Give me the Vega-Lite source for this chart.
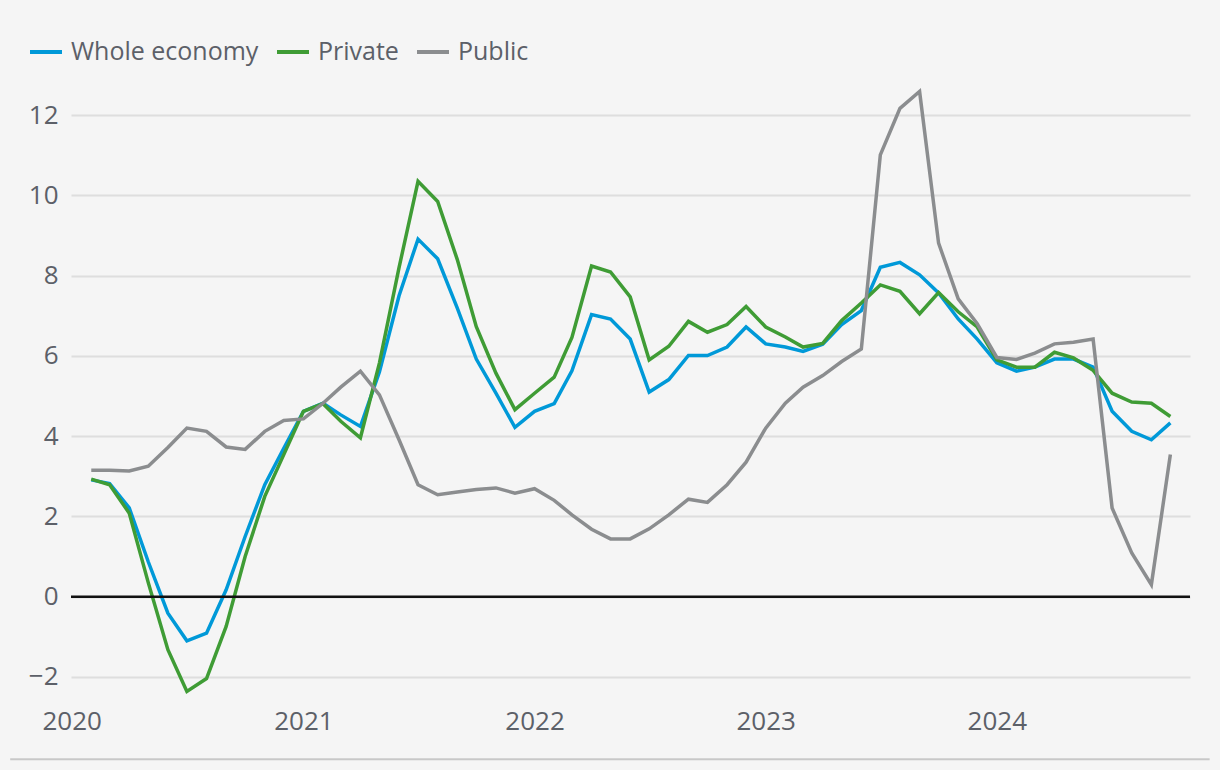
{
  "$schema": "https://vega.github.io/schema/vega-lite/v6.json",
  "width": 1119,
  "height": 626,
  "autosize": {"type": "none"},
  "padding": {"left": 71, "top": 75, "right": 30, "bottom": 69},
  "background": "#f5f5f5",
  "config": {
    "view": {"stroke": null},
    "font": "Open Sans",
    "axis": {"labelFont": "Open Sans", "labelFontSize": 26, "labelColor": "#5c6068", "title": null, "ticks": false, "domain": false},
    "legend": {"labelFont": "Open Sans", "labelFontSize": 25, "labelColor": "#5c6068", "labelLimit": 0}
  },
  "layer": [
    {
      "data": {"values": [{}]},
      "mark": {"type": "rule", "color": "#c8c8c8", "strokeWidth": 2, "clip": false},
      "encoding": {
        "y": {"datum": -4.05, "type": "quantitative"},
        "x": {"datum": {"year": 2019, "month": 9, "date": 26, "utc": true}, "type": "temporal"},
        "x2": {"datum": {"year": 2024, "month": 12, "date": 2, "utc": true}}
      }
    },
    {
      "data": {
        "values": [
          {"date": "2020-02-01", "Whole economy": 2.91, "Private": 2.93, "Public": 3.15},
          {"date": "2020-03-01", "Whole economy": 2.82, "Private": 2.79, "Public": 3.15},
          {"date": "2020-04-01", "Whole economy": 2.21, "Private": 2.08, "Public": 3.13},
          {"date": "2020-05-01", "Whole economy": 0.87, "Private": 0.35, "Public": 3.25},
          {"date": "2020-06-01", "Whole economy": -0.41, "Private": -1.32, "Public": 3.72},
          {"date": "2020-07-01", "Whole economy": -1.10, "Private": -2.36, "Public": 4.20},
          {"date": "2020-08-01", "Whole economy": -0.91, "Private": -2.04, "Public": 4.12},
          {"date": "2020-09-01", "Whole economy": 0.17, "Private": -0.74, "Public": 3.73},
          {"date": "2020-10-01", "Whole economy": 1.50, "Private": 1.00, "Public": 3.67},
          {"date": "2020-11-01", "Whole economy": 2.79, "Private": 2.50, "Public": 4.12},
          {"date": "2020-12-01", "Whole economy": 3.70, "Private": 3.54, "Public": 4.39},
          {"date": "2021-01-01", "Whole economy": 4.62, "Private": 4.62, "Public": 4.43},
          {"date": "2021-02-01", "Whole economy": 4.82, "Private": 4.81, "Public": 4.82},
          {"date": "2021-03-01", "Whole economy": 4.53, "Private": 4.37, "Public": 5.22},
          {"date": "2021-04-01", "Whole economy": 4.24, "Private": 3.96, "Public": 5.62},
          {"date": "2021-05-01", "Whole economy": 5.60, "Private": 5.82, "Public": 5.03},
          {"date": "2021-06-01", "Whole economy": 7.50, "Private": 8.20, "Public": 3.91},
          {"date": "2021-07-01", "Whole economy": 8.91, "Private": 10.35, "Public": 2.79},
          {"date": "2021-08-01", "Whole economy": 8.42, "Private": 9.85, "Public": 2.54},
          {"date": "2021-09-01", "Whole economy": 7.19, "Private": 8.40, "Public": 2.61},
          {"date": "2021-10-01", "Whole economy": 5.92, "Private": 6.73, "Public": 2.67},
          {"date": "2021-11-01", "Whole economy": 5.07, "Private": 5.57, "Public": 2.71},
          {"date": "2021-12-01", "Whole economy": 4.22, "Private": 4.66, "Public": 2.58},
          {"date": "2022-01-01", "Whole economy": 4.62, "Private": 5.07, "Public": 2.69},
          {"date": "2022-02-01", "Whole economy": 4.81, "Private": 5.47, "Public": 2.40},
          {"date": "2022-03-01", "Whole economy": 5.63, "Private": 6.46, "Public": 2.04},
          {"date": "2022-04-01", "Whole economy": 7.03, "Private": 8.24, "Public": 1.68},
          {"date": "2022-05-01", "Whole economy": 6.92, "Private": 8.09, "Public": 1.44},
          {"date": "2022-06-01", "Whole economy": 6.42, "Private": 7.47, "Public": 1.44},
          {"date": "2022-07-01", "Whole economy": 5.10, "Private": 5.90, "Public": 1.69},
          {"date": "2022-08-01", "Whole economy": 5.41, "Private": 6.24, "Public": 2.04},
          {"date": "2022-09-01", "Whole economy": 6.01, "Private": 6.86, "Public": 2.43},
          {"date": "2022-10-01", "Whole economy": 6.01, "Private": 6.59, "Public": 2.35},
          {"date": "2022-11-01", "Whole economy": 6.22, "Private": 6.78, "Public": 2.79},
          {"date": "2022-12-01", "Whole economy": 6.72, "Private": 7.23, "Public": 3.35},
          {"date": "2023-01-01", "Whole economy": 6.30, "Private": 6.72, "Public": 4.20},
          {"date": "2023-02-01", "Whole economy": 6.22, "Private": 6.47, "Public": 4.82},
          {"date": "2023-03-01", "Whole economy": 6.11, "Private": 6.22, "Public": 5.22},
          {"date": "2023-04-01", "Whole economy": 6.29, "Private": 6.31, "Public": 5.51},
          {"date": "2023-05-01", "Whole economy": 6.78, "Private": 6.88, "Public": 5.86},
          {"date": "2023-06-01", "Whole economy": 7.13, "Private": 7.32, "Public": 6.17},
          {"date": "2023-07-01", "Whole economy": 8.21, "Private": 7.77, "Public": 11.01},
          {"date": "2023-08-01", "Whole economy": 8.33, "Private": 7.61, "Public": 12.17},
          {"date": "2023-09-01", "Whole economy": 8.02, "Private": 7.05, "Public": 12.59},
          {"date": "2023-10-01", "Whole economy": 7.57, "Private": 7.58, "Public": 8.81},
          {"date": "2023-11-01", "Whole economy": 6.92, "Private": 7.10, "Public": 7.42},
          {"date": "2023-12-01", "Whole economy": 6.42, "Private": 6.72, "Public": 6.80},
          {"date": "2024-01-01", "Whole economy": 5.83, "Private": 5.90, "Public": 5.96},
          {"date": "2024-02-01", "Whole economy": 5.62, "Private": 5.72, "Public": 5.91},
          {"date": "2024-03-01", "Whole economy": 5.72, "Private": 5.72, "Public": 6.07},
          {"date": "2024-04-01", "Whole economy": 5.92, "Private": 6.09, "Public": 6.30},
          {"date": "2024-05-01", "Whole economy": 5.92, "Private": 5.95, "Public": 6.34},
          {"date": "2024-06-01", "Whole economy": 5.72, "Private": 5.64, "Public": 6.42},
          {"date": "2024-07-01", "Whole economy": 4.62, "Private": 5.07, "Public": 2.21},
          {"date": "2024-08-01", "Whole economy": 4.12, "Private": 4.85, "Public": 1.09},
          {"date": "2024-09-01", "Whole economy": 3.91, "Private": 4.82, "Public": 0.30},
          {"date": "2024-10-01", "Whole economy": 4.33, "Private": 4.49, "Public": 3.54}
        ]
      },
      "transform": [
        {"fold": ["Whole economy", "Private", "Public"], "as": ["series", "value"]}
      ],
      "mark": {"type": "line", "strokeWidth": 3.5, "strokeJoin": "miter"},
      "encoding": {
        "x": {
          "field": "date",
          "type": "temporal",
          "scale": {
            "type": "utc",
            "domain": [{"year": 2019, "month": 12, "date": 31, "utc": true}, {"year": 2024, "month": 11, "date": 1, "utc": true}]
          },
          "axis": {
            "values": [{"year": 2020, "utc": true}, {"year": 2021, "utc": true}, {"year": 2022, "utc": true}, {"year": 2023, "utc": true}, {"year": 2024, "utc": true}],
            "format": "%Y",
            "formatType": "utc",
            "grid": false,
            "labelPadding": 7,
            "labelFlush": false,
            "labelOverlap": false,
            "labelBound": false
          }
        },
        "y": {
          "field": "value",
          "type": "quantitative",
          "scale": {"domain": [-2.6, 13], "nice": false, "zero": false},
          "axis": {
            "values": [-2, 0, 2, 4, 6, 8, 10, 12],
            "grid": true,
            "gridColor": "#dedede",
            "gridWidth": 2,
            "labelPadding": 13
          }
        },
        "color": {
          "field": "series",
          "type": "nominal",
          "scale": {"domain": ["Whole economy", "Private", "Public"], "range": ["#0099d8", "#3f9c35", "#8b8d8f"]},
          "legend": {
            "title": null,
            "orient": "none",
            "direction": "horizontal",
            "legendX": -43,
            "legendY": -41,
            "symbolType": "stroke",
            "symbolSize": 1024,
            "symbolStrokeWidth": 4,
            "labelOffset": 7,
            "columnPadding": 10,
            "labelBaseline": "middle"
          }
        }
      }
    },
    {
      "data": {"values": [{}]},
      "mark": {"type": "rule", "color": "#111111", "strokeWidth": 2.5},
      "encoding": {"y": {"datum": 0, "type": "quantitative"}}
    }
  ]
}
